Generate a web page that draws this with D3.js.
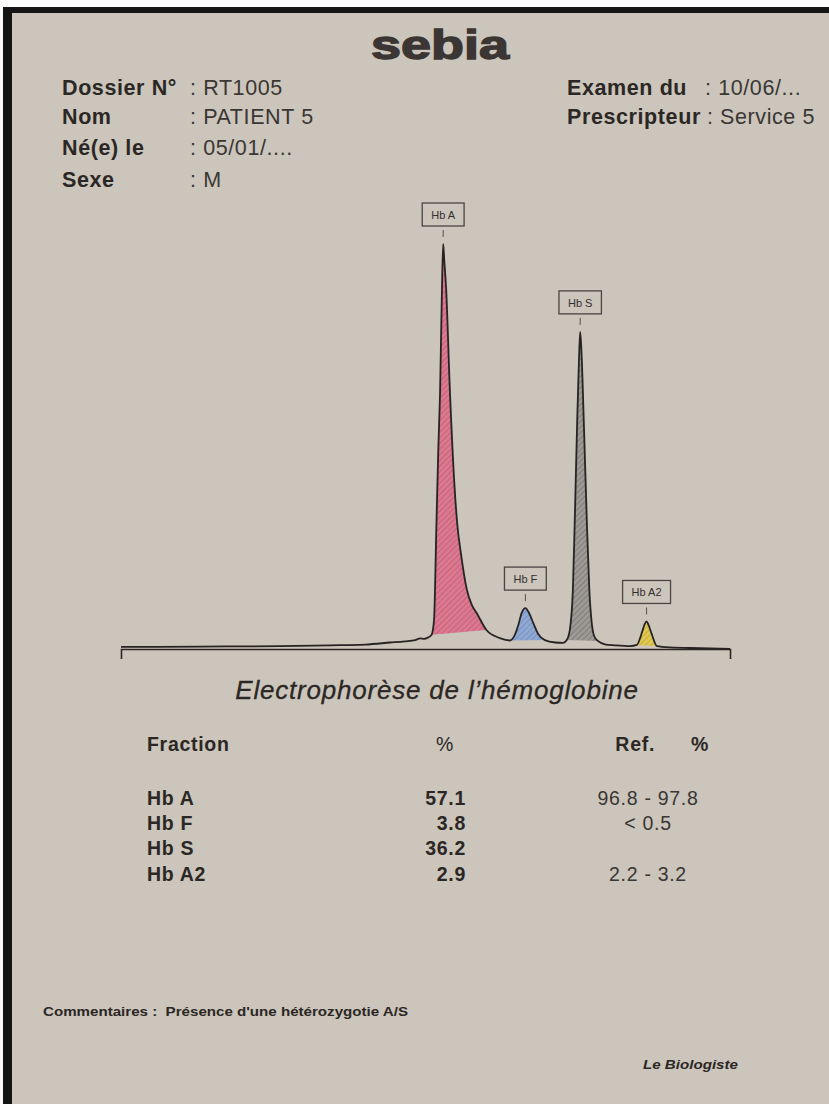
<!DOCTYPE html>
<html lang="fr">
<head>
<meta charset="utf-8">
<title>Electrophorèse de l'hémoglobine</title>
<script src="https://cdn.jsdelivr.net/npm/d3@7"></script>
<style>
  html, body { margin: 0; padding: 0; background: #ffffff; }
  svg { display: block; }
  text { font-family: "Liberation Sans", Arial, Helvetica, sans-serif; white-space: pre; }
</style>
</head>
<body>
<div id="chart"></div>
<script>
// ---- Report fields ----
const headerLeftLabels = ["Dossier N°", "Nom", "Né(e) le", "Sexe"];
const headerLeftValues = [": RT1005", ": PATIENT 5", ": 05/01/....", ": M"];
const headerRightLabels = ["Examen du", "Prescripteur"];
const headerRightValues = [": 10/06/...", ": Service 5"];

// ---- Fractions table ----
const fractions = ["Hb A", "Hb F", "Hb S", "Hb A2"];
const percents = [57.1, 3.8, 36.2, 2.9];
const refRanges = ["96.8 - 97.8", "< 0.5", "", "2.2 - 3.2"];

// ---- Densitometric trace (migration position, absorbance) ----
const traceX = [0, 12.97, 26.1, 34.3, 40.1, 44.2, 46.6, 48.3, 49.1, 49.8, 50.4, 51.0,
  51.4, 51.8, 52.1, 52.4, 52.7, 52.9, 53.1, 53.4, 54.0, 54.8, 55.2, 55.9, 56.8, 57.6,
  58.4, 60.0, 62.2, 63.87, 64.5, 65.2, 65.8, 66.4, 67.0, 67.7, 68.5, 69.6, 71.3, 72.6,
  73.2, 73.7, 74.2, 74.5, 74.9, 75.2, 75.4, 75.6, 76.0, 76.5, 76.9, 77.3, 77.7, 78.3,
  79.6, 81.1, 83.6, 84.7, 85.5, 85.96, 86.3, 86.6, 87.1, 88.0, 90.1, 95.1, 100];
const traceY = [0.5, 0.6, 0.7, 0.9, 1.1, 1.6, 1.9, 2.2, 2.6, 2.5, 2.8, 3.5,
  7.2, 31.1, 49.1, 64.0, 88.6, 100, 95.6, 88.6, 64.0, 39.3, 31.1, 22.7, 14.6, 10.9,
  8.9, 4.7, 2.7, 2.1, 3.0, 5.7, 8.9, 10.1, 8.9, 6.4, 3.7, 2.2, 1.6, 1.5,
  2.2, 4.7, 14.6, 31.1, 55.8, 71.4, 78.3, 73.8, 55.8, 31.1, 14.6, 6.4, 3.2, 2.0,
  1.1, 0.9, 0.7, 1.0, 3.9, 6.0, 6.8, 6.0, 3.9, 0.7, 0.4, 0.2, 0];

// integration limits of each fraction (positions on the trace)
const fillStart = [51.0, 63.87, 73.2, 84.7];
const fillEnd = [60.0, 69.6, 78.3, 88.0];
const fillBase = ["#da7990", "#90a9d3", "#9d9995", "#dfc856"];
const fillHatch = ["#c25a74", "#7089ba", "#77736f", "#c2a62a"];

const W = 829, H = 1104;
const ink = "#2b2724";
const paper = "#cbc5bb";

const svg = d3.select("#chart").append("svg")
  .attr("width", W).attr("height", H).attr("viewBox", `0 0 ${W} ${H}`);

// page + dark frame on top and left edges
svg.append("rect").attr("width", W).attr("height", H).attr("fill", "#fbfbfb");
svg.append("rect").attr("x", 3).attr("y", 7).attr("width", W - 3).attr("height", H - 7).attr("fill", "#141414");
svg.append("rect").attr("x", 12).attr("y", 13).attr("width", W - 12).attr("height", H - 13).attr("fill", paper);

const defs = svg.append("defs");
fractions.forEach((f, i) => {
  const p = defs.append("pattern")
    .attr("id", "hatch" + i)
    .attr("patternUnits", "userSpaceOnUse")
    .attr("width", 4).attr("height", 4)
    .attr("patternTransform", "rotate(45)");
  p.append("rect").attr("width", 4).attr("height", 4).attr("fill", fillBase[i]);
  p.append("line").attr("x1", 0).attr("y1", 0).attr("x2", 0).attr("y2", 4)
    .attr("stroke", fillHatch[i]).attr("stroke-width", 1.5);
});

// ---- Logo ----
svg.append("text")
  .attr("x", 440).attr("y", 59)
  .attr("text-anchor", "middle")
  .attr("font-family", "'DejaVu Sans', sans-serif")
  .attr("font-weight", "bold")
  .attr("font-size", 41)
  .attr("textLength", 138).attr("lengthAdjust", "spacingAndGlyphs")
  .attr("fill", "#3b3633").attr("stroke", "#3b3633").attr("stroke-width", 1.4)
  .text("sebia");

// ---- Header ----
const headerBaselines = [95, 124, 155, 187];
const header = svg.append("g").attr("font-size", 21.5).attr("letter-spacing", 0.6).attr("fill", ink);
headerLeftLabels.forEach((t, i) => {
  header.append("text").attr("x", 62).attr("y", headerBaselines[i]).attr("font-weight", "bold").text(t);
  header.append("text").attr("x", 190).attr("y", headerBaselines[i]).attr("fill", "#3a3633").text(headerLeftValues[i]);
});
headerRightLabels.forEach((t, i) => {
  const lab = header.append("text").attr("x", 567).attr("y", headerBaselines[i]).attr("font-weight", "bold").text(t);
  const vx = i === 0 ? 705 : 567 + lab.node().getComputedTextLength() + 6;
  header.append("text").attr("x", vx).attr("y", headerBaselines[i]).attr("fill", "#3a3633").text(headerRightValues[i]);
});

// ---- Electropherogram ----
const x = d3.scaleLinear().domain([0, 100]).range([121, 730]);
const y = d3.scaleLinear().domain([0, 100]).range([649, 244]);
const pts = traceX.map((d, i) => [d, traceY[i]]);

const line = d3.line().x(d => x(d[0])).y(d => y(d[1])).curve(d3.curveMonotoneX);
const area = d3.area().x(d => x(d[0])).y0(y(0)).y1(d => y(d[1])).curve(d3.curveMonotoneX);

const valueAt = px => traceY[traceX.indexOf(px)];

fractions.forEach((f, i) => {
  const s = fillStart[i], e = fillEnd[i];
  const poly = [[x(s), y(valueAt(s))], [x(e), y(valueAt(e))], [x(e), 0], [x(s), 0]];
  defs.append("clipPath").attr("id", "clip" + i)
    .append("polygon").attr("points", poly.map(p => p.join(",")).join(" "));
  svg.append("path")
    .datum(pts)
    .attr("d", area)
    .attr("fill", `url(#hatch${i})`)
    .attr("clip-path", `url(#clip${i})`);
});

// baseline bracket
svg.append("g")
  .attr("transform", `translate(0,${y(0)})`)
  .call(d3.axisBottom(x).tickValues([]).tickSizeOuter(10))
  .call(g => g.select(".domain").attr("stroke", ink).attr("stroke-width", 1.6));

// trace
svg.append("path")
  .datum(pts)
  .attr("d", line)
  .attr("fill", "none")
  .attr("stroke", "#262322")
  .attr("stroke-width", 1.8)
  .attr("stroke-linejoin", "round");

// peak labels
fractions.forEach((f, i) => {
  const inRange = pts.filter(p => p[0] >= fillStart[i] && p[0] <= fillEnd[i]);
  const apex = inRange.reduce((a, b) => (b[1] > a[1] ? b : a));
  const cx = x(apex[0]), top = y(apex[1]);
  const g = svg.append("g");
  const t = g.append("text")
    .attr("x", cx).attr("y", top - 25)
    .attr("text-anchor", "middle")
    .attr("font-size", 11)
    .attr("fill", "#34302d")
    .text(f);
  const w = t.node().getComputedTextLength() + 18;
  g.insert("rect", "text")
    .attr("x", cx - w / 2).attr("y", top - 41)
    .attr("width", w).attr("height", 23)
    .attr("fill", "none").attr("stroke", "#4a4542").attr("stroke-width", 1.3);
  g.append("line")
    .attr("x1", cx).attr("x2", cx)
    .attr("y1", top - 14).attr("y2", top - 7)
    .attr("stroke", "#55504c").attr("stroke-width", 1);
});

// ---- Title ----
svg.append("text")
  .attr("x", 437).attr("y", 699)
  .attr("text-anchor", "middle")
  .attr("font-size", 26).attr("font-style", "italic")
  .attr("letter-spacing", 0.8)
  .attr("fill", ink).attr("stroke", ink).attr("stroke-width", 0.3)
  .text("Electrophorèse de l’hémoglobine");

// ---- Table ----
const table = svg.append("g").attr("font-size", 19.5).attr("letter-spacing", 0.7).attr("fill", ink);
table.append("text").attr("x", 147).attr("y", 751).attr("font-weight", "bold").text("Fraction");
table.append("text").attr("x", 445).attr("y", 751).attr("text-anchor", "middle").text("%");
table.append("text").attr("x", 655).attr("y", 751).attr("text-anchor", "end").attr("font-weight", "bold").text("Ref.");
table.append("text").attr("x", 709).attr("y", 751).attr("text-anchor", "end").attr("font-weight", "bold").text("%");

const rowBaselines = [805, 830, 855, 881];
fractions.forEach((f, i) => {
  table.append("text").attr("x", 147).attr("y", rowBaselines[i]).attr("font-weight", "bold").text(f);
  table.append("text").attr("x", 466).attr("y", rowBaselines[i]).attr("text-anchor", "end")
    .attr("font-weight", "bold").text(d3.format(".1f")(percents[i]));
  table.append("text").attr("x", 648).attr("y", rowBaselines[i]).attr("text-anchor", "middle")
    .attr("fill", "#3a3633").text(refRanges[i]);
});

// ---- Footer ----
svg.append("text")
  .attr("x", 43).attr("y", 1016)
  .attr("font-size", 13.5).attr("font-weight", "bold")
  .attr("textLength", 365).attr("lengthAdjust", "spacingAndGlyphs")
  .attr("fill", ink)
  .text("Commentaires :  Présence d'une hétérozygotie A/S");

svg.append("text")
  .attr("x", 643).attr("y", 1069)
  .attr("font-size", 13.5).attr("font-weight", "bold").attr("font-style", "italic")
  .attr("textLength", 95).attr("lengthAdjust", "spacingAndGlyphs")
  .attr("fill", ink)
  .text("Le Biologiste");
</script>
</body>
</html>
